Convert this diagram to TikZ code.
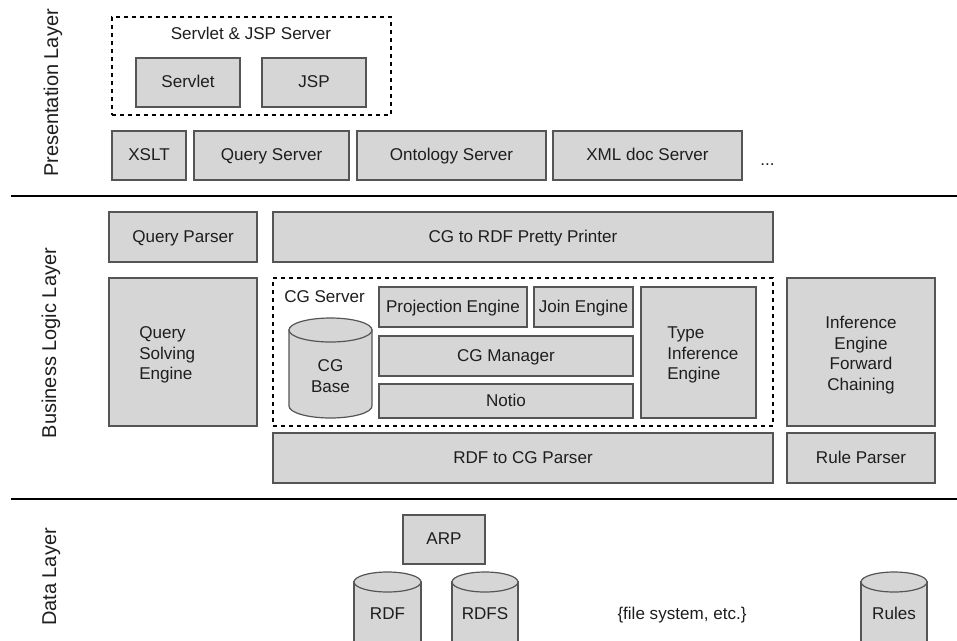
\documentclass[tikz,border=0pt]{standalone}
\usepackage{fontspec}
\setmainfont{Liberation Sans}
\usetikzlibrary{fit}
\definecolor{boxfill}{RGB}{214,214,214}
\definecolor{boxline}{RGB}{85,85,85}
\definecolor{txt}{RGB}{30,30,30}
\newcommand\bxfont{\fontsize{12.8pt}{15.6pt}\selectfont}
\newcommand\lyfont{\fontsize{15pt}{18pt}\selectfont}
\tikzset{
  box/.style={draw=boxline, fill=boxfill, line width=0.9pt, inner sep=0pt},
  txtc/.style={label={[lbl]center:#1}},
  dashbox/.style={draw=black, dashed, line width=0.8pt, inner sep=0pt},
  mlbl/.style={font=\bxfont, text=txt, inner sep=0pt},
  lbl/.style={mlbl, text height=9pt, text depth=1pt},
  layerlbl/.style={font=\lyfont, text=txt, rotate=90, anchor=base, inner sep=0pt},
  layerline/.style={draw=black, line width=2.2pt},
  cyl/.style={draw=boxline, fill=boxfill, line width=0.9pt}
}
\begin{document}
\begin{tikzpicture}[x=0.75pt, y=-0.75pt]
\useasboundingbox (0,0) rectangle (957,640);

% layer labels
\node[layerlbl] (lpres) at (58,93) {Presentation Layer};
\node[layerlbl] (lbus) at (56,343) {Business Logic Layer};
\node[layerlbl] (ldata) at (56,577) {Data Layer};

% separator lines
\coordinate (s1a) at (11,196); \coordinate (s1b) at (957,196);
\coordinate (s2a) at (11,499); \coordinate (s2b) at (957,499);
\draw[layerline] (s1a) -- (s1b);
\draw[layerline] (s2a) -- (s2b);

% presentation layer
\node[dashbox, fit={(112,17) (391,115)}] (jspsrv) {};
\node[lbl] (jspsrvlbl) at (251,34) {Servlet \& JSP Server};
\node[box, fit={(136,58) (240,107)}, txtc={Servlet}] (servlet) {};
\node[box, fit={(262,58) (366,107)}, txtc={JSP}] (jsp) {};
\node[box, fit={(112,131) (186,180)}, txtc={XSLT}] (xslt) {};
\node[box, fit={(194,131) (349,180)}, txtc={Query Server}] (qserver) {};
\node[box, fit={(357,131) (546,180)}, txtc={Ontology Server}] (onto) {};
\node[box, fit={(553,131) (742,180)}, txtc={XML doc Server}] (xmldoc) {};
\node[mlbl, anchor=base west] (dots) at (760,165) {...};

% business logic layer
\node[box, fit={(109,212) (257,262)}, txtc={Query Parser}] (qparser) {};
\node[box, fit={(273,212) (773,262)}, txtc={CG to RDF Pretty Printer}] (cg2rdf) {};
\node[box, fit={(109,278) (257,426)}] (qsolve) {};
\node[mlbl, align=left, anchor=west] (qsolvetxt) at (139,355) {Query\\Solving\\Engine};
\node[dashbox, fit={(273,278) (773,426)}] (cgsrv) {};
\node[lbl, anchor=west] (cgsrvlbl) at (284,297) {CG Server};
\node[box, fit={(379,287) (527,327)}, txtc={Projection Engine}] (proj) {};
\node[box, fit={(534,287) (633,327)}, txtc={Join Engine}] (join) {};
\node[box, fit={(379,336) (633,376)}, txtc={CG Manager}] (cgman) {};
\node[box, fit={(379,384) (633,418)}, txtc={Notio}] (notio) {};
\node[box, fit={(641,287) (756,418)}] (typeinf) {};
\node[mlbl, align=left, anchor=west] (typeinftxt) at (667,355) {Type\\Inference\\Engine};
% CG Base cylinder
\filldraw[cyl] (289,330) -- (289,406) arc[start angle=180, end angle=360, x radius=31.125pt, y radius=9pt] -- (372,330) -- cycle;
\filldraw[cyl] (330.5,330) ellipse[x radius=31.125pt, y radius=9pt];
\node[mlbl, align=center] (cgbase) at (330.5,376) {CG\\Base};
\node[box, fit={(787,278) (935,426)}] (infeng) {};
\node[mlbl, align=center] (infengtxt) at (861,355) {Inference\\Engine\\Forward\\Chaining};
\node[box, fit={(273,433) (773,483)}, txtc={RDF to CG Parser}] (rdf2cg) {};
\node[box, fit={(787,433) (935,483)}, txtc={Rule Parser}] (ruleparser) {};

% data layer
\node[box, fit={(403,515) (485,564)}, txtc={ARP}] (arp) {};
\filldraw[cyl] (354,582) -- (354,670) -- (421,670) -- (421,582) -- cycle;
\filldraw[cyl] (387.5,582) ellipse[x radius=25.125pt, y radius=7.5pt];
\node[lbl] (rdf) at (387.5,614) {RDF};
\filldraw[cyl] (452,582) -- (452,670) -- (518,670) -- (518,582) -- cycle;
\filldraw[cyl] (485,582) ellipse[x radius=24.75pt, y radius=7.5pt];
\node[lbl] (rdfs) at (485,614) {RDFS};
\node[lbl] (filesys) at (682,614) {\{file system, etc.\}};
\filldraw[cyl] (861,582) -- (861,670) -- (927,670) -- (927,582) -- cycle;
\filldraw[cyl] (894,582) ellipse[x radius=24.75pt, y radius=7.5pt];
\node[lbl] (rules) at (894,614) {Rules};
\end{tikzpicture}
\end{document}
